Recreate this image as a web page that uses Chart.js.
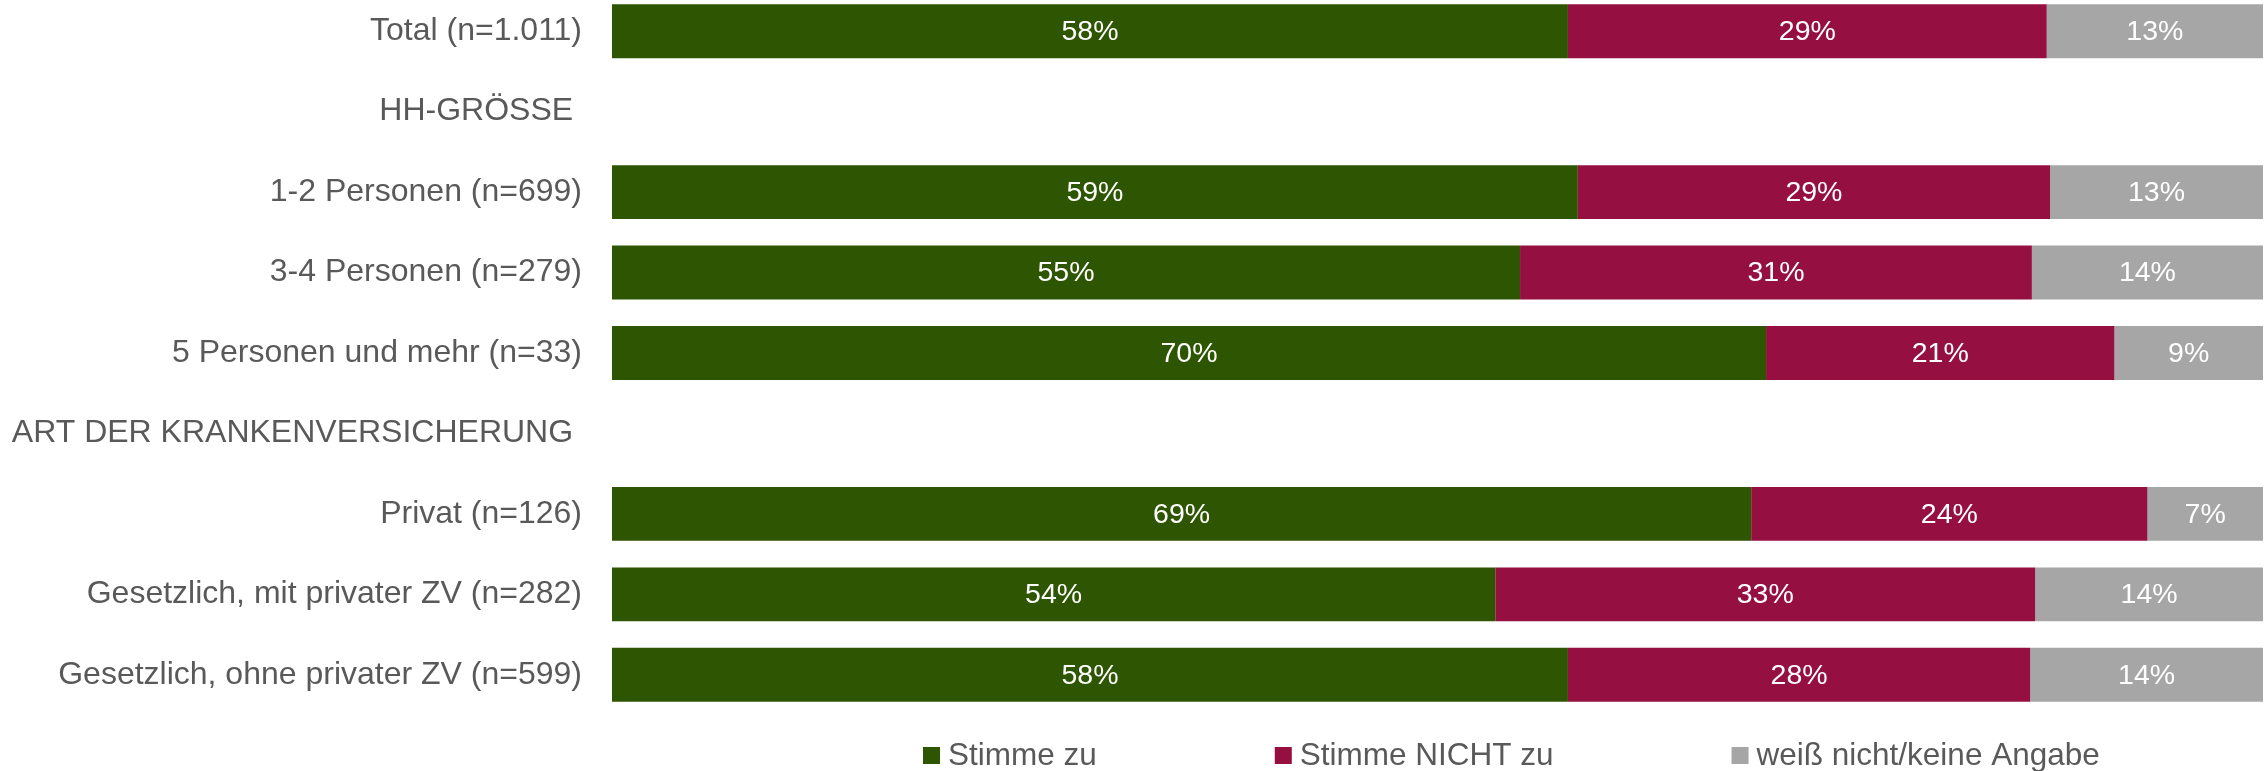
<!DOCTYPE html>
<html>
<head>
<meta charset="utf-8">
<script src="https://cdn.jsdelivr.net/npm/chart.js@4"></script>
<style>
  html, body { margin: 0; padding: 0; background: #fff; overflow: hidden; }
  /* canvas starts a little above the page so the first bar sits near the top edge */
  #wrap { width: 2265px; height: 780px; margin-top: -9px; }
</style>
</head>
<body>
<div id="wrap"><canvas id="chart"></canvas></div>
<script>
const categories = [
  "Total (n=1.011)",
  "HH-GRÖSSE ",
  "1-2 Personen (n=699)",
  "3-4 Personen (n=279)",
  "5 Personen und mehr (n=33)",
  "ART DER KRANKENVERSICHERUNG ",
  "Privat (n=126)",
  "Gesetzlich, mit privater ZV (n=282)",
  "Gesetzlich, ohne privater ZV (n=599)",
]
const seriesNames = ["Stimme zu", "Stimme NICHT zu", "weiß nicht/keine Angabe"]
const agree = [57.9, null, 58.5, 55.0, 69.9, null, 69.0, 53.5, 57.9]
const disagree = [29.0, null, 28.6, 31.0, 21.1, null, 24.0, 32.7, 28.0]
const dontKnow = [13.1, null, 12.9, 14.0, 9.0, null, 7.0, 13.8, 14.1]
const colors = ["#2E5501", "#951040", "#A6A6A6"]

const FONT = "'Liberation Sans', Arial, sans-serif"
const TEXT = "#595959"

// white percentage labels inside each segment
const valueLabels = {
  id: "valueLabels",
  afterDatasetsDraw(chart) {
    const ctx = chart.ctx
    ctx.save()
    ctx.font = "28.5px " + FONT
    ctx.fillStyle = "#ffffff"
    ctx.textAlign = "center"
    ctx.textBaseline = "middle"
    chart.data.datasets.forEach((ds, i) => {
      chart.getDatasetMeta(i).data.forEach((bar, j) => {
        const v = ds.data[j]
        if (v == null) return
        const p = bar.getCenterPoint()
        ctx.fillText(Math.round(v) + "%", p.x, p.y + 1)
      })
    })
    ctx.restore()
  },
}

// legend drawn at the bottom, like the original
const bottomLegend = {
  id: "bottomLegend",
  afterDraw(chart) {
    const ctx = chart.ctx
    ctx.save()
    ctx.font = "31.5px " + FONT
    ctx.textBaseline = "middle"
    ctx.textAlign = "left"
    let x = 923
    const y = 765
    chart.data.datasets.forEach((ds) => {
      ctx.fillStyle = ds.backgroundColor
      ctx.fillRect(x, y - 9, 17, 17)
      ctx.fillStyle = TEXT
      ctx.fillText(ds.label, x + 25, y)
      x += 25 + ctx.measureText(ds.label).width + 178
    })
    ctx.restore()
  },
}

const chart = new Chart(document.getElementById("chart"), {
  type: "bar",
  data: {
    labels: categories,
    datasets: [
      { label: seriesNames[0], data: agree, backgroundColor: colors[0] },
      { label: seriesNames[1], data: disagree, backgroundColor: colors[1] },
      { label: seriesNames[2], data: dontKnow, backgroundColor: colors[2] },
    ],
  },
  options: {
    indexAxis: "y",
    responsive: true,
    maintainAspectRatio: false,
    animation: false,
    layout: { padding: { left: 0, right: 2, top: 0, bottom: 56 } },
    datasets: { bar: { barPercentage: 0.67, categoryPercentage: 1.0, borderWidth: 0 } },
    scales: {
      x: {
        stacked: true,
        min: 0,
        max: 100,
        display: false,
      },
      y: {
        stacked: true,
        grid: { display: false, drawTicks: false },
        border: { display: false },
        ticks: {
          padding: 30,
          color: TEXT,
          font: { family: FONT, size: 32 },
        },
        afterFit(scale) {
          scale.width = 612
          scale.paddingTop = 0
          scale.paddingBottom = 0
        },
      },
    },
    plugins: {
      legend: { display: false },
      tooltip: { enabled: false },
    },
  },
  plugins: [valueLabels, bottomLegend],
})
</script>
</body>
</html>
